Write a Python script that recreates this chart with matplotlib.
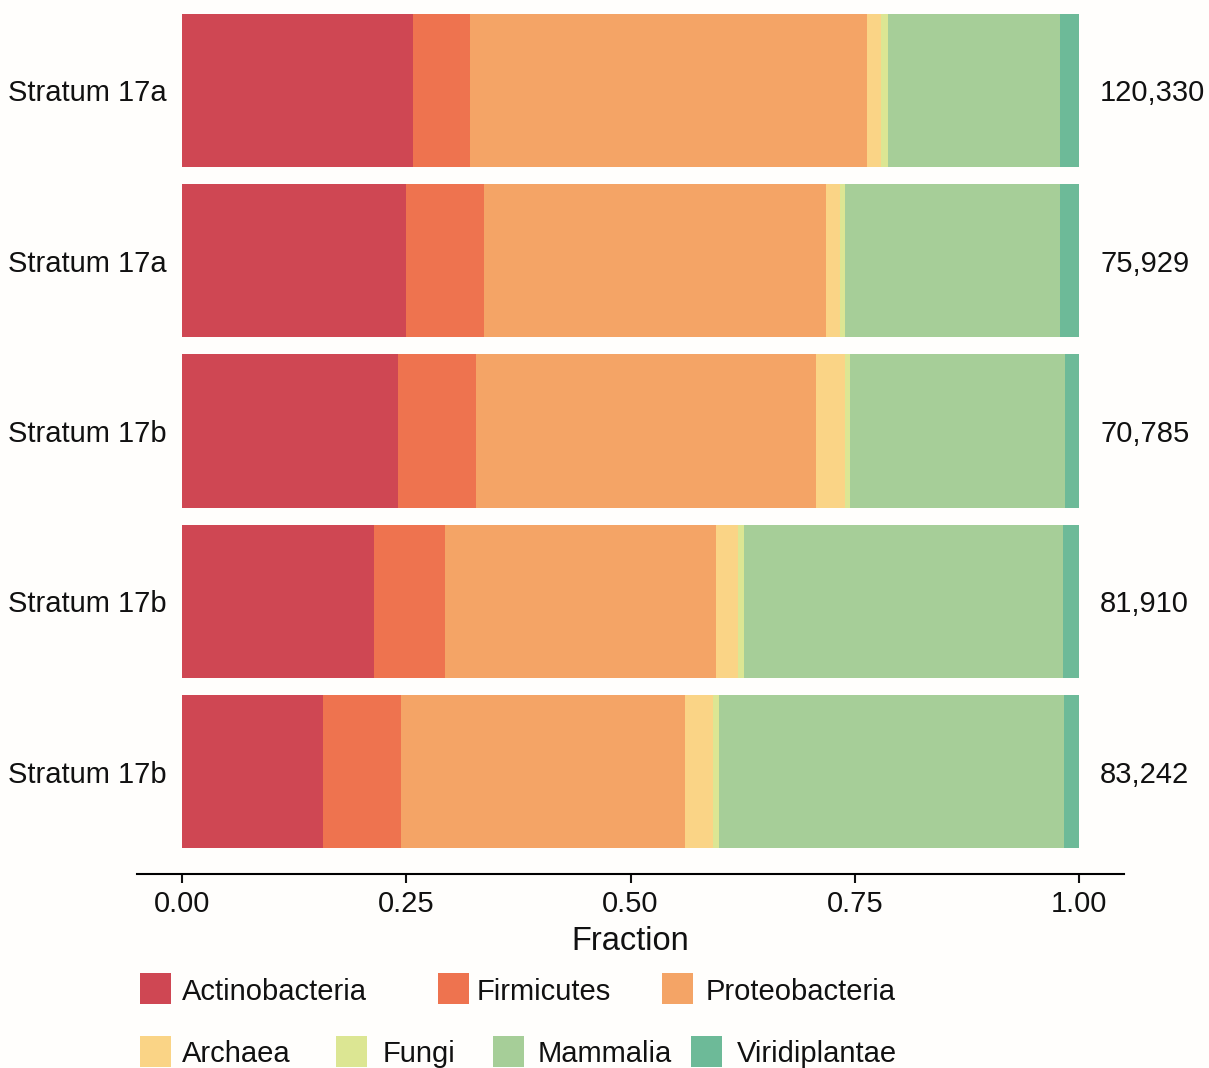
import numpy as np
from matplotlib import pyplot as plt
from matplotlib.patches import Rectangle

plt.rcParams['font.family'] = ['Liberation Sans', 'DejaVu Sans']

samples = ['Stratum 17a', 'Stratum 17a', 'Stratum 17b', 'Stratum 17b', 'Stratum 17b']
reads = [120330, 75929, 70785, 81910, 83242]
taxa = ['Actinobacteria', 'Firmicutes', 'Proteobacteria', 'Archaea',
        'Fungi', 'Mammalia', 'Viridiplantae']

# fraction of reads per taxon, one row per sample
actinobacteria = [0.258, 0.250, 0.241, 0.214, 0.157]
firmicutes     = [0.063, 0.087, 0.087, 0.079, 0.087]
proteobacteria = [0.443, 0.381, 0.379, 0.302, 0.317]
archaea        = [0.015, 0.015, 0.032, 0.025, 0.031]
fungi          = [0.008, 0.006, 0.006, 0.007, 0.007]
mammalia       = [0.192, 0.240, 0.239, 0.355, 0.385]
viridiplantae  = [0.021, 0.021, 0.016, 0.018, 0.017]

colors = ['#CF4753', '#EE734F', '#F4A466', '#FAD486', '#DCE693', '#A6CE98', '#6DBA98']

if __name__ == '__main__':
  W, H = 1209, 1068
  fig = plt.figure(figsize=(W / 100, H / 100), dpi=100, facecolor='#FFFEFC')
  ax = fig.add_axes([137 / W, 1 - 874 / H, 987 / W, 874 / H])
  ax.set_facecolor('#FFFEFC')

  data = np.array([actinobacteria, firmicutes, proteobacteria, archaea,
                   fungi, mammalia, viridiplantae])
  data = data / data.sum(axis=0)
  ypos = np.arange(1, len(samples) + 1)
  left = np.zeros(len(samples))
  for i, name in enumerate(taxa):
    ax.barh(ypos, data[i], left=left, height=0.9, color=colors[i], linewidth=0)
    left += data[i]

  ax.set_xlim(-0.05, 1.05)
  ax.set_ylim(5.6, 0.4695)
  ax.set_yticks([])
  for s in ['top', 'right', 'left']:
    ax.spines[s].set_visible(False)
  ax.spines['bottom'].set_linewidth(1.5)
  ax.set_xticks([0, 0.25, 0.5, 0.75, 1.0])
  ax.set_xticklabels(['0.00', '0.25', '0.50', '0.75', '1.00'])
  ax.tick_params(axis='x', length=6.5, width=1.5, pad=5, labelsize=21,
                 colors='#111111')
  ax.set_xlabel('Fraction', fontsize=23.5, labelpad=6, color='#111111')

  for y, lab, n in zip(ypos, samples, reads):
    ax.text(-0.017, y, lab, ha='right', va='center_baseline', fontsize=21,
            color='#111111', clip_on=False)
    ax.text(1.0235, y, '{:,}'.format(n), ha='left', va='center_baseline',
            fontsize=21, color='#111111', clip_on=False)

  # legend laid out in two rows of keys (pixel positions)
  key_x = [140, 438, 662, 140, 336, 493, 691]
  key_y = [988.5, 988.5, 988.5, 1051.5, 1051.5, 1051.5, 1051.5]
  txt_x = [182, 477, 706, 182, 383, 538, 737]
  for i, name in enumerate(taxa):
    fig.patches.append(Rectangle((key_x[i] / W, 1 - (key_y[i] + 15.5) / H),
                                 31 / W, 31 / H, transform=fig.transFigure,
                                 facecolor=colors[i], edgecolor='none'))
    fig.text(txt_x[i] / W, 1 - key_y[i] / H, name, ha='left',
             va='center_baseline', fontsize=21, color='#111111')

  plt.savefig('out.png', dpi=100, facecolor=fig.get_facecolor())
